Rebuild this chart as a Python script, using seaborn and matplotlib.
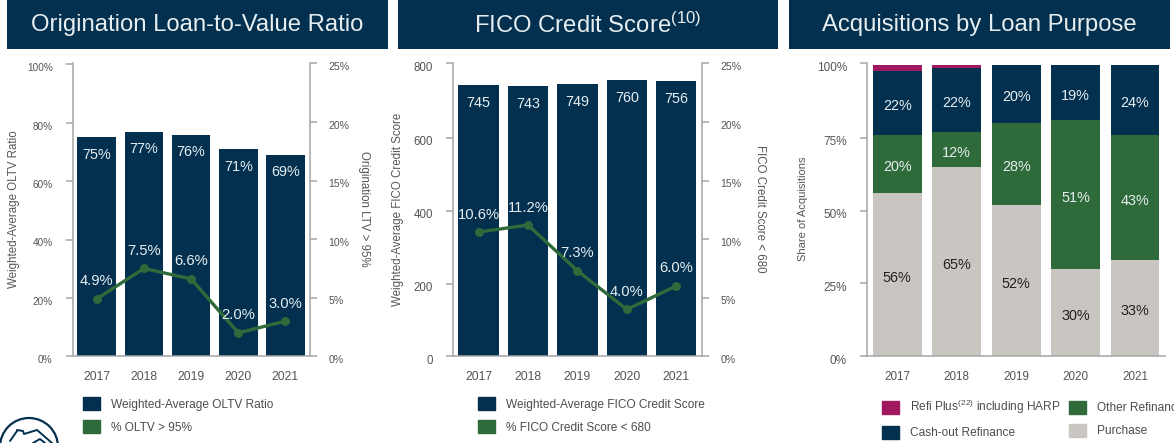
import matplotlib
matplotlib.use('Agg')
import matplotlib.pyplot as plt
import seaborn as sns
from matplotlib.patches import Rectangle, Patch, Ellipse
from matplotlib.lines import Line2D
from matplotlib.transforms import ScaledTranslation

years = ['2017', '2018', '2019', '2020', '2021']

# OLTV panel
oltv_avg = [75, 77, 76, 71, 69]
oltv_high = [4.9, 7.5, 6.6, 2.0, 3.0]

# FICO panel
fico_avg = [745, 743, 749, 760, 756]
fico_low = [10.6, 11.2, 7.3, 4.0, 6.0]

# loan purpose panel
purchase = [56, 65, 52, 30, 33]
other_refi = [20, 12, 28, 51, 43]
cash_out = [22, 22, 20, 19, 24]
refi_plus = [2, 1, 0, 0, 0]

NAVY = '#03304F'
GREEN = '#2F6B3A'
GREY = '#C9C6C2'
MAGENTA = '#A0185F'
AXIS = '#A6A6A6'
TEXT = '#555555'
PALE = '#E6EEF0'
W, H = 1174, 443

sns.set_style('white')
plt.rcParams['font.family'] = ['Liberation Sans', 'DejaVu Sans']
plt.rcParams['mathtext.fontset'] = 'custom'
plt.rcParams['mathtext.rm'] = 'Liberation Sans'
plt.rcParams['mathtext.default'] = 'regular'

fig = plt.figure(figsize=(W / 100, H / 100), dpi=100)


def px_axes(left, right, top=63.3, bottom=356.3):
    return fig.add_axes([left / W, 1 - bottom / H, (right - left) / W, (bottom - top) / H])


def style_axis(ax, size, pad, sides):
    for s in ax.spines:
        ax.spines[s].set_visible(s in sides)
        ax.spines[s].set_color(AXIS)
        ax.spines[s].set_linewidth(1.1)
    ax.tick_params(axis='y', length=4.8, width=1.1, color=AXIS, labelsize=size,
                   labelcolor=TEXT, pad=pad, left='left' in sides, right='right' in sides)
    shift = ScaledTranslation(0, -2 / 72, fig.dpi_scale_trans)
    for lab in ax.get_yticklabels():
        lab.set_transform(lab.get_transform() + shift)


def banner(left, right, title):
    fig.add_artist(Rectangle((left / W, 1 - 49 / H), (right - left) / W, 49 / H,
                             transform=fig.transFigure, color=NAVY, lw=0))
    fig.text((left + right) / 2 / W, 1 - 25 / H, title, color=PALE, fontsize=17.2,
             ha='center', va='center')


def side_label(x, text, rotation, size=8.3):
    fig.text(x / W, 1 - 209 / H, text, rotation=rotation, color=TEXT, fontsize=size,
             ha='center', va='center')


def combo_panel(left, right, bar_w, bars, line, bar_labels, ymax, yticks, yticklabels, size):
    ax = px_axes(left, right)
    sns.barplot(x=years, y=bars, color=NAVY, saturation=1, width=bar_w, lw=0, ax=ax)
    ax.set_ylim(0, ymax)
    ax.set_yticks(yticks, yticklabels)
    ax.set_xlim(-0.51, 4.52)
    ax.tick_params(axis='x', length=0, labelsize=8.7, labelcolor=TEXT, pad=10.3)
    style_axis(ax, size, 9.6, ('left', 'bottom'))
    for i, v in enumerate(bars):
        ax.annotate(bar_labels[i], (i, v), xytext=(0, -12.6), textcoords='offset points',
                    ha='center', va='center', color=PALE, fontsize=10.4)

    ax2 = ax.twinx()
    sns.lineplot(x=years, y=line, color=GREEN, lw=2.4, marker='o', ms=6.4, mew=0, sort=False, ax=ax2)
    ax2.set_ylim(0, 25)
    ax2.set_yticks([0, 5, 10, 15, 20, 25], ['0%', '5%', '10%', '15%', '20%', '25%'])
    ax2.set_xlim(-0.51, 4.52)
    ax2.set_ylabel('')
    style_axis(ax2, 7.6, 8.4, ('right',))
    for i, v in enumerate(line):
        ax2.annotate(f'{v:.1f}%', (i, v), xytext=(0, 12.6), textcoords='offset points',
                     ha='center', va='center', color=PALE, fontsize=10.6)
    return ax


def legend(handles, labels, x, y, ncols=1):
    fig.legend(handles, labels, loc='upper left', bbox_to_anchor=(x / W, 1 - y / H), ncols=ncols,
               frameon=False, fontsize=8.55, labelcolor='#4D4D4D', borderpad=0, borderaxespad=0,
               handlelength=1.43, handleheight=1.35, handletextpad=0.92, labelspacing=0.8,
               columnspacing=0.72)


# left panel
banner(7, 388, 'Origination Loan-to-Value Ratio')
combo_panel(72.7, 310, 0.817, oltv_avg, oltv_high, [f'{v}%' for v in oltv_avg], 100.4,
            [0, 20, 40, 60, 80, 100], ['0%', '20%', '40%', '60%', '80%', '100%'], 7.2)
side_label(14, 'Weighted-Average OLTV Ratio', 90)
side_label(363.5, 'Origination LTV > 95%', 270)
legend([Patch(color=NAVY), Patch(color=GREEN)], ['Weighted-Average OLTV Ratio', '% OLTV > 95%'], 83, 397)

# middle panel
banner(398, 778, r'FICO Credit Score$^{(10)}$')
combo_panel(453.3, 702, 0.813, fico_avg, fico_low, [str(v) for v in fico_avg], 806,
            [0, 200, 400, 600, 806], ['0', '200', '400', '600', '800'], 8.3)
side_label(398, 'Weighted-Average FICO Credit Score', 90)
side_label(760, 'FICO Credit Score < 680', 270)
legend([Patch(color=NAVY), Patch(color=GREEN)], ['Weighted-Average FICO Credit Score', '% FICO Credit Score < 680'], 478, 397)

# right panel
banner(789, 1170, 'Acquisitions by Loan Purpose')
ax3 = px_axes(867, 1165)
bottom = [0, 0, 0, 0, 0]
for vals, col, txt in [(purchase, GREY, '#222222'), (other_refi, GREEN, PALE),
                       (cash_out, NAVY, PALE), (refi_plus, MAGENTA, None)]:
    sns.barplot(x=years, y=vals, bottom=bottom, color=col, saturation=1, width=0.82, lw=0, ax=ax3)
    if txt:
        for i, v in enumerate(vals):
            ax3.annotate(f'{v}%', (i, bottom[i] + v / 2), xytext=(0, -2.2), textcoords='offset points',
                         ha='center', va='center', color=txt, fontsize=10.4)
    bottom = [b + v for b, v in zip(bottom, vals)]
ax3.set_ylim(0, 100.6)
ax3.set_yticks([0, 25, 50, 75, 100.6], ['0%', '25%', '50%', '75%', '100%'])
ax3.set_xlim(-0.51, 4.505)
ax3.tick_params(axis='x', length=0, labelsize=8.4, labelcolor=TEXT, pad=10.3)
style_axis(ax3, 8.5, 9.6, ('left', 'bottom'))
side_label(803, 'Share of Acquisitions', 90, 8)
legend([Patch(color=MAGENTA), Patch(color=NAVY), Patch(color=GREEN), Patch(color=GREY)],
       [r'Refi Plus$^{(22)}$ including HARP', 'Cash-out Refinance', 'Other Refinance', 'Purchase'],
       882.3, 398, ncols=2)

# house logo, cut off by the lower edge
fig.add_artist(Ellipse((29 / W, 1 - 447 / H), 58 / W, 58 / H, transform=fig.transFigure, fill=False,
                       ec=NAVY, lw=1.6))
for xs, ys in [([10, 17, 17, 23, 24, 37, 52], [441, 431, 430, 431, 434, 430, 443]),
               ([33, 40, 45], [443, 439, 443])]:
    fig.add_artist(Line2D([x / W for x in xs], [1 - y / H for y in ys], transform=fig.transFigure,
                          color=NAVY, lw=1.4))
fig.savefig('out.png', dpi=100)
